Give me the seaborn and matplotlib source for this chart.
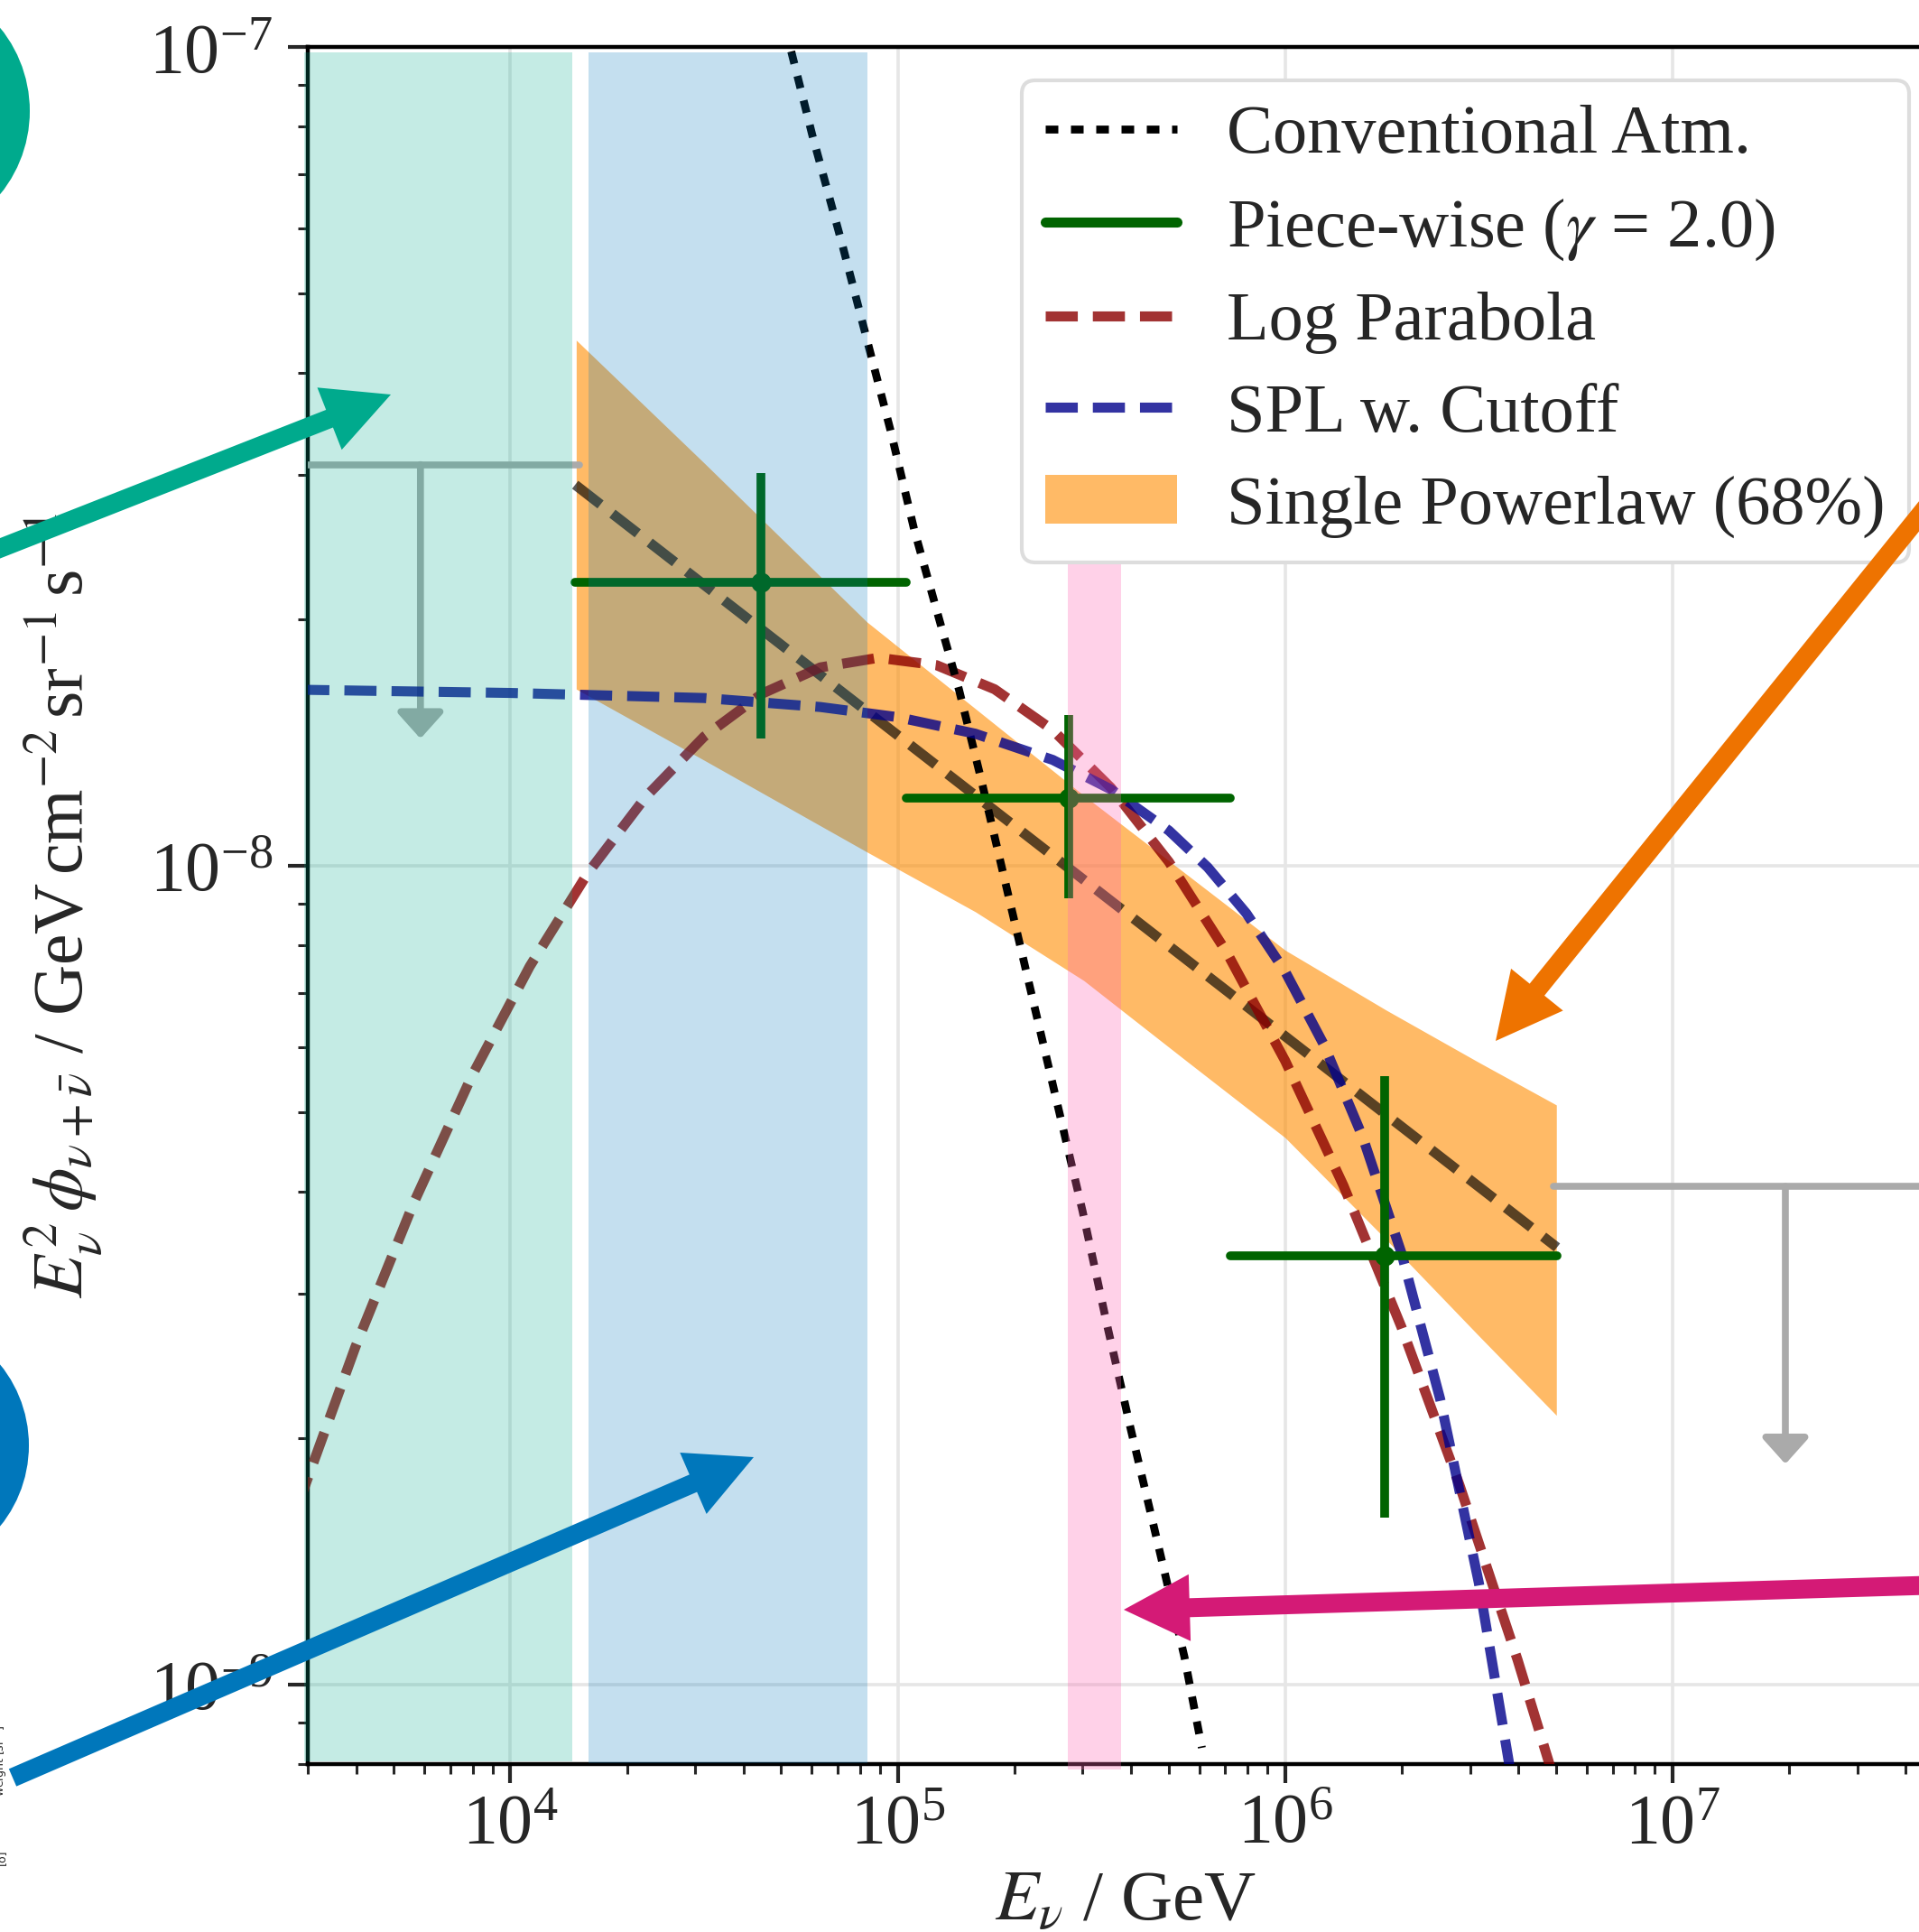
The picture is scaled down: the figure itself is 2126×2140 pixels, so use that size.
import matplotlib
matplotlib.use("Agg")
import matplotlib.pyplot as plt
import seaborn as sns
from matplotlib.lines import Line2D
from matplotlib.patches import Patch, Circle, FancyArrow

# conventional atmospheric flux
atm_energy = [5.309e4, 6.012e4, 7.178e4, 8.289e4, 9.572e4, 1.102e5, 1.274e5, 1.439e5,
              1.637e5, 2.213e5, 2.594e5, 2.999e5, 3.467e5, 3.990e5, 4.683e5, 5.495e5, 6.095e5]
atm_flux = [9.874e-8, 7.816e-8, 5.754e-8, 4.426e-8, 3.406e-8, 2.576e-8, 2.014e-8, 1.641e-8,
            1.282e-8, 6.982e-9, 5.070e-9, 3.788e-9, 2.754e-9, 2.056e-9, 1.493e-9, 1.081e-9, 8.375e-10]

# log parabola
lp_energy = [2.818e3, 3.981e3, 5.623e3, 7.943e3, 1.122e4, 1.585e4, 2.239e4, 3.162e4, 4.467e4,
             6.310e4, 8.913e4, 1.259e5, 1.778e5, 2.512e5, 3.548e5, 5.012e5, 7.079e5, 1.0e6,
             1.413e6, 1.995e6, 2.818e6, 3.981e6, 5.248e6]
lp_flux = [1.648e-9, 2.585e-9, 3.871e-9, 5.531e-9, 7.537e-9, 9.799e-9, 1.215e-8, 1.438e-8, 1.623e-8,
           1.747e-8, 1.795e-8, 1.758e-8, 1.643e-8, 1.465e-8, 1.246e-8, 1.011e-8, 7.826e-9, 5.779e-9,
           4.072e-9, 2.735e-9, 1.753e-9, 1.072e-9, 6.99e-10]

# single power law with cutoff
spl_energy = [2.818e3, 1.0e4, 3.162e4, 6.310e4, 1.0e5, 1.585e5, 2.512e5, 3.548e5, 5.012e5,
              6.310e5, 7.943e5, 1.0e6, 1.259e6, 1.585e6, 1.995e6, 2.512e6, 3.162e6, 3.981e6]
spl_flux = [1.641e-8, 1.626e-8, 1.603e-8, 1.563e-8, 1.519e-8, 1.450e-8, 1.347e-8, 1.240e-8, 1.104e-8,
            9.959e-9, 8.746e-9, 7.427e-9, 6.045e-9, 4.665e-9, 3.368e-9, 2.233e-9, 1.331e-9, 6.946e-10]

# single powerlaw best fit and 68% band
pl_energy = [1.47e4, 5.03e6]
pl_flux = [2.92e-8, 3.42e-9]
band_energy = [1.479e4, 3.162e4, 8.318e4, 1.585e5, 3.020e5, 5.623e5, 1.0e6, 1.820e6, 3.162e6, 5.012e6]
band_upper = [4.385e-8, 3.105e-8, 1.986e-8, 1.556e-8, 1.219e-8, 9.727e-9, 7.889e-9, 6.668e-9, 5.754e-9, 5.105e-9]
band_lower = [1.644e-8, 1.346e-8, 1.040e-8, 8.790e-9, 7.244e-9, 5.754e-9, 4.656e-9, 3.499e-9, 2.667e-9, 2.133e-9]

# piece-wise points
pw_energy = [4.44e4, 2.76e5, 1.81e6]
pw_e_low = [1.47e4, 1.05e5, 7.2e5]
pw_e_high = [1.05e5, 7.2e5, 5.03e6]
pw_flux = [2.22e-8, 1.21e-8, 3.34e-9]
pw_flux_low = [1.43e-8, 9.12e-9, 1.60e-9]
pw_flux_high = [3.02e-8, 1.53e-8, 5.54e-9]

# upper limits
ul_energy = [5.86e3, 1.955e7]
ul_e_low = [2.0e3, 4.92e6]
ul_e_high = [1.51e4, 8.0e7]
ul_flux = [3.09e-8, 4.06e-9]
ul_tip = [1.43e-8, 1.86e-9]

# highlighted energy ranges
region_low = [2.94e3, 1.59e4, 2.754e5]
region_high = [1.444e4, 8.333e4, 3.779e5]

teal, blue, orange, magenta = "#00AA8D", "#0077BB", "#EE7300", "#D41A76"

sns.set_theme(style="ticks")
plt.rcParams["font.family"] = ["Liberation Serif", "DejaVu Serif"]
plt.rcParams["mathtext.fontset"] = "stix"
text_col = "#262626"

W, H = 2126, 2140
fig = plt.figure(figsize=(W / 100, H / 100), dpi=100)
ax = fig.add_axes([341 / W, 186 / H, 1812 / W, 1902 / H])
ax.set_xscale("log")
ax.set_yscale("log")

dash = (3.2, 1.5)
dot = (1.6, 1.6)
ax.fill_between(band_energy, band_lower, band_upper, color="darkorange", alpha=0.6, lw=0, zorder=2)
sns.lineplot(x=pl_energy, y=pl_flux, ax=ax, color="black", alpha=0.65, lw=8, dashes=dash, zorder=3)
sns.lineplot(x=lp_energy, y=lp_flux, ax=ax, color="darkred", alpha=0.8, lw=8, dashes=dash, zorder=3)
sns.lineplot(x=spl_energy, y=spl_flux, ax=ax, color="darkblue", alpha=0.8, lw=8, dashes=dash, zorder=3.1)
sns.lineplot(x=atm_energy, y=atm_flux, ax=ax, color="black", lw=6.3, dashes=dot, zorder=3)

# upper limits
for e, lo, hi, f, tip in zip(ul_energy, ul_e_low, ul_e_high, ul_flux, ul_tip):
    ax.plot([lo, hi], [f, f], color="#aaaaaa", lw=5.5, solid_capstyle="round", zorder=3)
    ax.annotate("", xy=(e, tip), xytext=(e, f),
                arrowprops=dict(arrowstyle="-|>,head_length=1.45,head_width=1.3",
                                color="#aaaaaa", lw=5.5, shrinkA=0, shrinkB=0), zorder=3)

eb = ax.errorbar(pw_energy, pw_flux,
                 xerr=[[a - b for a, b in zip(pw_energy, pw_e_low)], [b - a for a, b in zip(pw_energy, pw_e_high)]],
                 yerr=[[a - b for a, b in zip(pw_flux, pw_flux_low)], [b - a for a, b in zip(pw_flux, pw_flux_high)]],
                 fmt="o", color="darkgreen", ms=15, elinewidth=7, capsize=0, zorder=4)
eb.lines[2][0].set_capstyle("round")

# shaded ranges on top
spans = [(teal, 0.0016, 0.9968), (blue, 0.0005, 0.9968), ("hotpink", -0.003, 0.75)]
for (col, y0, y1), lo, hi in zip(spans, region_low, region_high):
    a = 0.3 if col == "hotpink" else 0.23
    ax.axvspan(lo, hi, ymin=y0, ymax=y1, color=col, alpha=a, lw=0, zorder=10, clip_on=False)

ax.set_xlim(3e3, 5e7)
ax.set_ylim(8e-10, 1e-7)
ax.grid(True, which="major", color="#e6e6e6", lw=2.6)
for s in ax.spines.values():
    s.set_color("black")
    s.set_linewidth(3.2)
ax.tick_params(which="major", length=15, width=3, labelsize=56, pad=8, colors=text_col)
ax.tick_params(which="minor", length=8, width=2.2, colors=text_col)
ax.tick_params(axis="y", which="major", length=16, pad=12)

ax.set_xlabel(r"$E_\nu$ / GeV", fontsize=57, color=text_col)
ax.set_ylabel(r"$E_\nu^2\,\phi_{\nu+\bar{\nu}}$ / GeV$\,$cm$^{-2}\,$sr$^{-1}\,$s$^{-1}$", fontsize=56, color=text_col)
ax.xaxis.set_label_coords(0.5, -0.062)
ax.yaxis.set_label_coords(-0.124, 0.5)

handles = [
    Line2D([], [], color="black", lw=6.3, dashes=dot),
    Line2D([], [], color="darkgreen", lw=8, solid_capstyle="round"),
    Line2D([], [], color="darkred", alpha=0.8, lw=8, dashes=dash),
    Line2D([], [], color="darkblue", alpha=0.8, lw=8, dashes=dash),
    Patch(color="darkorange", alpha=0.6, lw=0),
]
labels = ["Conventional Atm.", r"Piece-wise ($\gamma$ = 2.0)", "Log Parabola",
          "SPL w. Cutoff", "Single Powerlaw (68%)"]
leg = ax.legend(handles, labels, loc="upper right", bbox_to_anchor=(0.979, 0.9805), borderaxespad=0,
                fontsize=55, frameon=True, fancybox=True, framealpha=1, edgecolor="#dddddd",
                handlelength=1.9, handletextpad=0.72, labelspacing=0.42, borderpad=0.35)
leg.get_frame().set_linewidth(3)
leg.set_zorder(20)
for t in leg.get_texts():
    t.set_color(text_col)

# overlay annotations in pixel positions of the figure
def inch(x, y):
    return x / 100, (H - y) / 100

for (x, y), r, col in [((-113, 123), 146, teal), ((-110, 1601), 142, blue)]:
    fig.add_artist(Circle(inch(x, y), r / 100, color=col, transform=fig.dpi_scale_trans, lw=0))

arrows = [((-200, 686), (433, 437), teal), ((14, 1969), (835, 1614), blue),
          ((2222, 453), (1657, 1153), orange), ((2300, 1751), (1245, 1783), magenta)]
for (x0, y0), (x1, y1), col in arrows:
    sx, sy = inch(x0, y0)
    ex, ey = inch(x1, y1)
    fig.add_artist(FancyArrow(sx, sy, ex - sx, ey - sy, width=0.21, head_width=0.74, head_length=0.73,
                              length_includes_head=True, color=col, lw=0, transform=fig.dpi_scale_trans))

fig.text(1 / W, (H - 1950) / H, r"weight [sr$^{-1}$]", rotation=90, fontsize=9, family="DejaVu Sans",
         ha="center", va="center", color=text_col)
fig.text(1 / W, (H - 2057) / H, "[o]", rotation=90, fontsize=9, family="DejaVu Sans",
         ha="center", va="center", color=text_col)

fig.savefig("out.png", dpi=100)
